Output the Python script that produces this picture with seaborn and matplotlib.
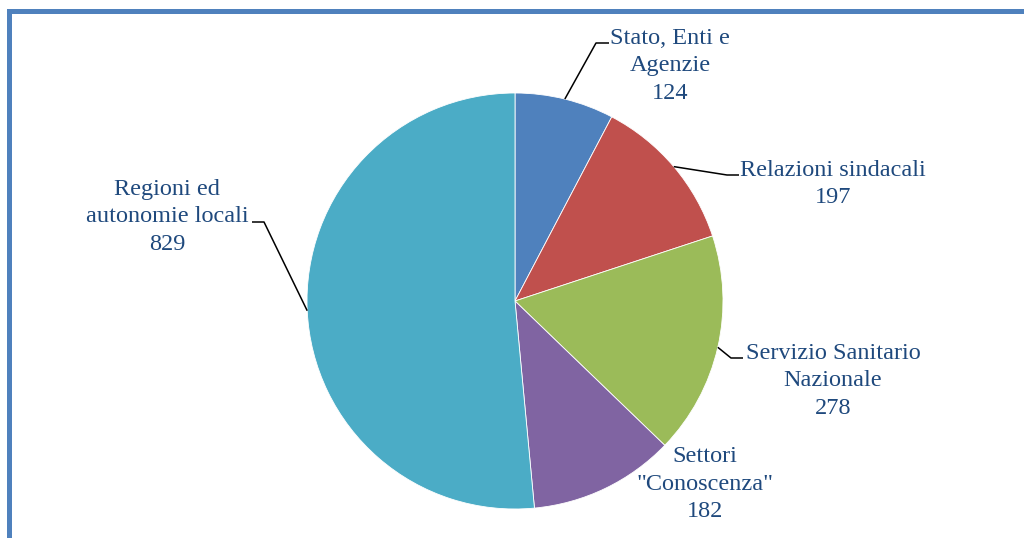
import numpy as np
import matplotlib
matplotlib.use("Agg")
import matplotlib.pyplot as plt
import seaborn as sns
from matplotlib.patches import Rectangle

# Contratti per comparto
categories = ["Stato, Enti e\nAgenzie", "Relazioni sindacali", "Servizio Sanitario\nNazionale",
              "Settori\n\"Conoscenza\"", "Regioni ed\nautonomie locali"]
values = [124, 197, 278, 182, 829]
colors = ["#4F81BD", "#C0504D", "#9BBB59", "#8064A2", "#4BACC6"]

sns.set_theme(style="white")
plt.rcParams["font.family"] = ["Liberation Serif", "DejaVu Serif"]

W, H = 1024, 538
fig = plt.figure(figsize=(W / 100, H / 100), dpi=100)
ax = fig.add_axes([0, 0, 1, 1])

cx, cy, r = 515, H - 301, 208
wedges, _ = ax.pie(values, colors=sns.color_palette(colors), startangle=90, counterclock=False,
                   center=(cx, cy), radius=r,
                   wedgeprops=dict(edgecolor="white", linewidth=0.6))
ax.set_xlim(0, W)
ax.set_ylim(0, H)
ax.set_aspect("auto")
ax.axis("off")

text_color = "#1F497D"
# label centre (x, y from top) and leader path: elbow point and end point (x, y from top), or None
label_pos = [(670, 66), (833, 184), (833, 381), (705, 484), (167, 217)]
leaders = [((596, 43), (609, 43)),
           ((727, 175), (739, 175)),
           ((731, 358), (743, 358)),
           None,
           ((264, 222), (252, 222))]

for w, lab, val, (lx, ly), lead in zip(wedges, categories, values, label_pos, leaders):
    ax.text(lx, H - ly, f"{lab}\n{val}", ha="center", va="center", fontsize=17.5,
            color=text_color, linespacing=1.41)
    if lead is not None:
        ang = np.deg2rad((w.theta1 + w.theta2) / 2)
        sx, sy = cx + r * np.cos(ang), cy + r * np.sin(ang)
        (ex, ey), (fx, fy) = lead
        ax.plot([sx, ex, fx], [sy, H - ey, H - fy], color="black", lw=1.1, solid_capstyle="butt")

# chart frame
ax.add_patch(Rectangle((8.5, -100), 1200, H - 10.5 + 100, fill=False,
                       edgecolor="#4F81BD", linewidth=3.6))

fig.savefig("out.png", dpi=100)
